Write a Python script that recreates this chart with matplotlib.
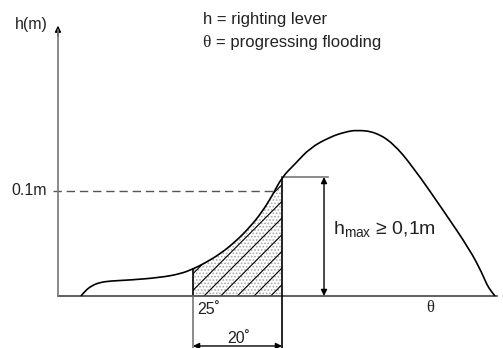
import matplotlib
matplotlib.use("Agg")
import matplotlib.pyplot as plt
import numpy as np
from matplotlib.path import Path
from matplotlib.patches import PathPatch

plt.rcParams['font.family'] = ['Liberation Sans', 'DejaVu Sans']
plt.rcParams['mathtext.fontset'] = 'custom'
plt.rcParams['mathtext.rm'] = 'Liberation Sans'
plt.rcParams['mathtext.it'] = 'Liberation Sans'
plt.rcParams['hatch.linewidth'] = 0.8

# ---- data (theta in degrees from the h-axis, h in metres) ----
theta_curve = [5.17, 6.07, 7.64, 9.44, 11.69, 16.18, 22.92, 27.42, 30.34, 33.03,
               36.40, 39.78, 43.15, 45.84, 48.09, 50.34, 53.26, 56.63, 61.12, 64.49,
               67.19, 71.24, 75.28, 79.78, 86.52, 92.58, 95.28, 96.40, 97.30, 98.20]
h_curve = [0.0, 0.0048, 0.0100, 0.0129, 0.0143, 0.0152, 0.0176, 0.0210, 0.0257, 0.0314,
           0.0400, 0.0514, 0.0657, 0.0800, 0.0952, 0.1133, 0.1257, 0.1410, 0.1514, 0.1562,
           0.1581, 0.1562, 0.1457, 0.1229, 0.0819, 0.0438, 0.0219, 0.0105, 0.0048, 0.0]
theta_start = 30.34      # labelled 25°
theta_end = 50.34        # 20° further
h_min_line = 0.1         # 0.1 m reference level
theta_axis_end = 98.65
h_axis_top = 0.2575

theta_curve = np.array(theta_curve)
h_curve = np.array(h_curve)

fig = plt.figure(figsize=(5.03, 3.48), dpi=100)
ax = fig.add_axes([0, 0, 1, 1])
ax.set_xlim(-13.03, 100.0)
ax.set_ylim(-0.04952, 0.28190)
ax.axis('off')

# hatched area between 25° and 45°
mask = (theta_curve >= theta_start - 1e-6) & (theta_curve <= theta_end + 1e-6)
ts, hs = theta_curve[mask], h_curve[mask]
ax.fill_between(ts, 0, hs, facecolor='white', edgecolor='#aaaaaa', hatch='.....', linewidth=0, zorder=1)
ax.fill_between(ts, 0, hs, facecolor='none', edgecolor='black', hatch='//', linewidth=0, zorder=2)

# smooth curve drawn as a quadratic-bezier path through the points
pts = np.column_stack([theta_curve, h_curve])
verts = [pts[0]]
codes = [Path.MOVETO]
for i in range(1, len(pts) - 1):
    mid = (pts[i] + pts[i + 1]) / 2
    verts += [pts[i], mid]
    codes += [Path.CURVE3, Path.CURVE3]
verts.append(pts[-1])
codes.append(Path.LINETO)
ax.add_patch(PathPatch(Path(verts, codes), facecolor='none', edgecolor='black', lw=1.2, zorder=5))

# axes
ax.plot([0, theta_axis_end], [0, 0], color='#444444', lw=1.2, zorder=4)
ax.plot([0, 0], [0, h_axis_top - 0.004], color='#777777', lw=1.2, zorder=4)
ax.annotate('', xy=(0, h_axis_top), xytext=(0, h_axis_top - 0.01),
            arrowprops=dict(arrowstyle='-|>', color='black', lw=1, mutation_scale=9,
                            shrinkA=0, shrinkB=0))

# dashed 0.1 m line
h_cross = np.interp(h_min_line, h_curve[:16], theta_curve[:16])
ax.plot([-1.2, h_cross], [h_min_line, h_min_line], color='#555555', lw=1.0,
        dashes=(6, 3.5), zorder=3)

# verticals at 25° and 45°
h_start = np.interp(theta_start, theta_curve, h_curve)
h_end = np.interp(theta_end, theta_curve, h_curve)
ax.plot([theta_start, theta_start], [0, h_start], color='black', lw=1.2, zorder=4)
ax.plot([theta_start, theta_start], [-0.06, 0], color='#777777', lw=1.2, zorder=4)
ax.plot([theta_end, theta_end], [-0.06, h_end], color='black', lw=1.2, zorder=4)
ax.plot([theta_end, 60.67], [h_end, h_end], color='#777777', lw=1.2, zorder=4)

# h_max double arrow
ax.annotate('', xy=(59.78, 0), xytext=(59.78, h_end),
            arrowprops=dict(arrowstyle='<|-|>', color='black', lw=1, mutation_scale=9,
                            shrinkA=0, shrinkB=0))
# 20° double arrow
ax.annotate('', xy=(theta_start, -0.0476), xytext=(theta_end, -0.0476),
            arrowprops=dict(arrowstyle='<|-|>', color='black', lw=1, mutation_scale=9,
                            shrinkA=0, shrinkB=0))

# texts
c = '#222222'
ax.text(-9.6, 0.2581, 'h(m)', fontsize=11.5, color=c, va='center', ha='left')
ax.text(-2.5, h_min_line, '0.1m', fontsize=11.5, color=c, va='center', ha='right')
ax.text(31.3, -0.0126, '25˚', fontsize=11.5, color=c, va='center', ha='left')
ax.text(38.1, -0.0405, '20˚', fontsize=11.5, color=c, va='center', ha='left')
ax.text(82.8, -0.0110, 'θ', fontsize=12, color=c, va='center', ha='left', family='Liberation Serif')
ax.text(61.8, 0.0638, 'h$_{\\mathrm{max}}$ ≥ 0,1m', fontsize=14, color=c, va='center', ha='left')
ax.text(32.6, 0.2629, 'h = righting lever', fontsize=12, color=c, va='center', ha='left')
ax.text(32.4, 0.2410, 'θ', fontsize=12.5, color=c, va='center', ha='left', family='Liberation Serif')
ax.text(35.5, 0.2410, '= progressing flooding', fontsize=12, color=c, va='center', ha='left')

fig.savefig('out.png', dpi=100)
